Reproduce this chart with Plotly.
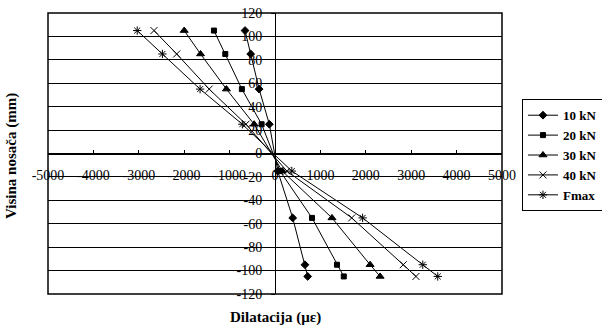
import plotly.graph_objects as go

heights = [105, 85, 55, 25, -15, -55, -95, -105]
s10 = [-660, -535, -350, -125, 60, 390, 660, 720]
s20 = [-1345, -1095, -730, -295, 110, 815, 1365, 1515]
s30 = [-2000, -1640, -1070, -460, 160, 1255, 2095, 2315]
s40 = [-2665, -2165, -1450, -640, 260, 1690, 2825, 3105]
sfmax = [-3035, -2480, -1650, -720, 370, 1930, 3255, 3585]
names = ["10 kN", "20 kN", "30 kN", "40 kN", "Fmax"]
xticks = [-5000, -4000, -3000, -2000, -1000, 0, 1000, 2000, 3000, 4000, 5000]
xticklabels = ["-5000", "-4000", "-3000", "-2000", "-1000", "0", "1000", "2000", "3000", "4000", "5000"]
yticks = [-120, -100, -80, -60, -40, -20, 0, 20, 40, 60, 80, 100, 120]
yticklabels = ["-120", "-100", "-80", "-60", "-40", "-20", "0", "20", "40", "60", "80", "100", "120"]

symbols = ["diamond", "square", "triangle-up", "x-thin-open", "asterisk-open"]
sizes = [6, 5, 7, 7, 7]
series = [s10, s20, s30, s40, sfmax]

fig = go.Figure()
for name, vals, sym, sz in zip(names, series, symbols, sizes):
    fig.add_trace(go.Scatter(
        x=vals, y=heights, name=name, mode="lines+markers", legendgroup=name,
        line=dict(color="black", width=1),
        marker=dict(symbol=sym, size=sz, color="black", line=dict(color="black", width=1)),
    ))

serif = "Liberation Serif, Times New Roman, serif"
font = dict(family=serif, size=14, color="black")
fig.update_layout(
    width=602, height=332,
    margin=dict(l=48, r=100, t=13, b=38, autoexpand=False),
    paper_bgcolor="white", plot_bgcolor="white",
    font=font,
    showlegend=True,
    legend=dict(
        x=1.044, y=0.693, xanchor="left", yanchor="top",
        bordercolor="black", borderwidth=1,
        font=dict(family=serif, size=13, color="black", weight="bold"),
        itemwidth=30, tracegroupgap=0, traceorder="grouped",
    ),
    xaxis=dict(
        range=[-5000, 5000], tickvals=xticks, ticktext=xticklabels,
        showgrid=False, zeroline=False,
        anchor="free", position=0.5,
        showline=True, linecolor="black", linewidth=1,
        ticks="inside", ticklen=4, tickcolor="black",
        ticklabelstandoff=9,
    ),
    yaxis=dict(
        range=[-120, 120], tickvals=yticks, ticktext=yticklabels,
        showgrid=True, gridcolor="black", gridwidth=1,
        zeroline=False,
        anchor="free", position=0.5,
        showline=True, linecolor="black", linewidth=1,
        ticks="outside", ticklen=4, tickcolor="black",
        ticklabelstandoff=6,
    ),
    shapes=[dict(type="rect", xref="paper", yref="paper", x0=0, y0=0, x1=1, y1=1,
                 line=dict(color="black", width=1.5), fillcolor="rgba(0,0,0,0)")],
    annotations=[
        dict(text="<b>Dilatacija (με)</b>", xref="paper", yref="paper", x=0.5, y=-0.085,
             xanchor="center", yanchor="middle", showarrow=False,
             font=dict(family=serif, size=15, color="black")),
        dict(text="<b>Visina nosača (mm)</b>", xref="paper", yref="paper", x=-0.057, y=0.49,
             xanchor="right", yanchor="middle", textangle=-90, showarrow=False,
             font=dict(family=serif, size=15, color="black")),
    ],
)
fig.write_html("out.html")
